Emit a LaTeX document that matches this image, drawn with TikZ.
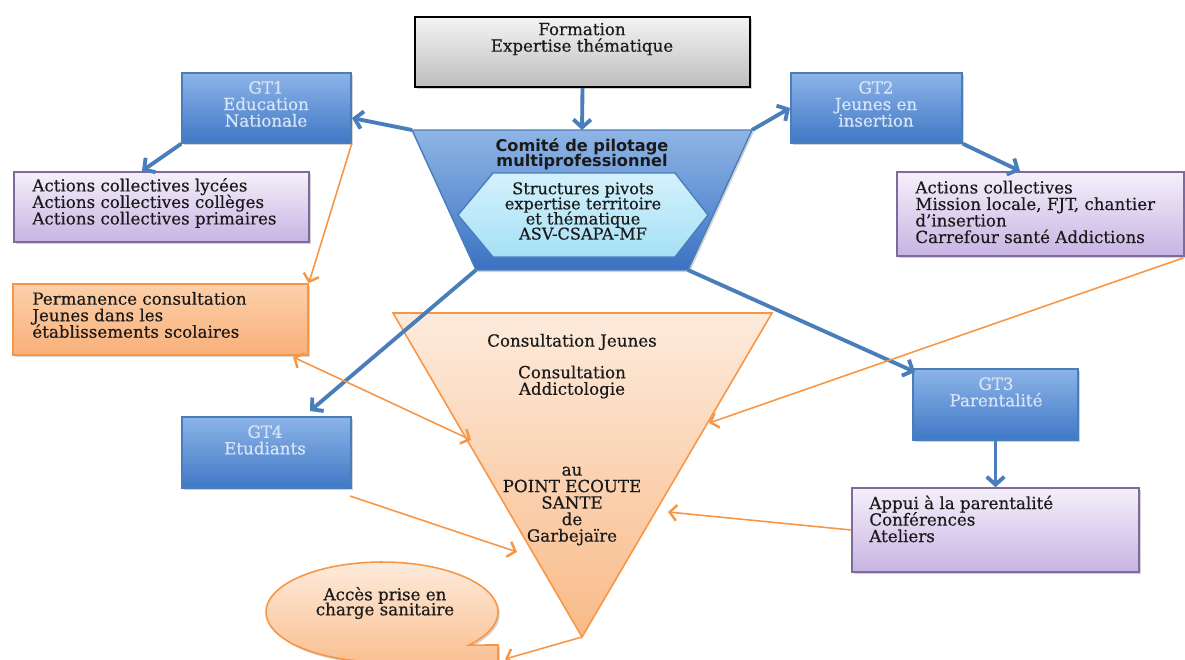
\documentclass[tikz,border=0pt]{standalone}
\usepackage{fontspec}
\setmainfont{DejaVu Serif}[FakeBold=0.4]
\newfontfamily\comfont{DejaVu Sans}
\usetikzlibrary{arrows.meta,shadows,fit}
\AtBeginDocument{\setlength{\lineskiplimit}{-20pt}\setlength{\lineskip}{0pt}}
\definecolor{bluebd}{HTML}{4A7EBB}
\definecolor{bluetop}{HTML}{8DB4E8}
\definecolor{bluebot}{HTML}{3F78C6}
\definecolor{gttext}{HTML}{D8E5F6}
\definecolor{purtop}{HTML}{F4F0FA}
\definecolor{purbot}{HTML}{C8B3E3}
\definecolor{purbd}{HTML}{7F6A9C}
\definecolor{ortop}{HTML}{FDEBDC}
\definecolor{orbot}{HTML}{F9BA88}
\definecolor{permtop}{HTML}{FCD0AA}
\definecolor{permbot}{HTML}{F8B07A}
\definecolor{orbd}{HTML}{F79646}
\definecolor{graytop}{HTML}{F4F4F4}
\definecolor{graybot}{HTML}{BDBDBD}
\definecolor{hextop}{HTML}{D3F2FC}
\definecolor{hexbot}{HTML}{A6E0F5}
\definecolor{txt}{HTML}{1A1A1A}
\definecolor{tztop}{HTML}{8FB5E6}
\definecolor{tzbot}{HTML}{3A72C2}
\begin{document}
\begin{tikzpicture}[x=0.02cm,y=-0.02cm,
  every node/.style={text=txt, font=\fontsize{9.5}{9.4}\selectfont},
  shad/.style={drop shadow={shadow xshift=1pt,shadow yshift=-1.2pt,opacity=0.35}},
  bluebox/.style={draw=bluebd, line width=0.8pt, top color=bluetop, bottom color=bluebot, shad, inner sep=0pt},
  purbox/.style={draw=purbd, line width=0.9pt, top color=purtop, bottom color=purbot, shad, inner sep=0pt},
  orbox/.style={draw=orbd, line width=0.9pt, top color=permtop, bottom color=permbot, shad, inner sep=0pt},
  graybox/.style={draw=black, line width=1.2pt, top color=graytop, bottom color=graybot, shad, inner sep=0pt},
  gtt/.style={text=gttext, align=center},
  ltxt/.style={align=left, anchor=west, inner sep=0pt},
  ctxt/.style={align=center},
  barrow/.style={draw=bluebd, line width=2.2pt, -{Straight Barb[length=4.5pt,width=10pt]}},
  oarrow/.style={draw=orbd, line width=0.9pt, -{Straight Barb[length=4pt,width=9pt,line width=1.4pt]}},
  odarrow/.style={draw=orbd, line width=0.9pt, {Straight Barb[length=4pt,width=9pt,line width=1.4pt]}-{Straight Barb[length=4pt,width=9pt,line width=1.4pt]}}
]
\useasboundingbox (0,0) rectangle (1185,659);
\clip (0,0) rectangle (1185,659);

% named corner coordinates
\coordinate (tzA) at (412,130);
\coordinate (tzB) at (752,130);
\coordinate (tzC) at (688,270);
\coordinate (tzD) at (476,270);
\coordinate (tzT) at (582,130);
\coordinate (trA) at (393,313);
\coordinate (trB) at (772,313);
\coordinate (trC) at (582,637);

% Formation box
\node[graybox, fit={(415,17)(750,87)}] (fmt) {};
\node[ctxt] (fmtt) at (582,39) {Formation\\Expertise thématique};

% Comite trapezoid
\path[draw=bluebd, line width=0.8pt, top color=tztop, bottom color=tzbot, shad] (tzA) -- (tzB) -- (tzC) -- (tzD) -- cycle;
\node[ctxt, font=\comfont\bfseries\fontsize{9.2}{8.8}\selectfont] (comt) at (582,154) {Comité de pilotage\\multiprofessionnel};
\path[draw=bluebd, line width=0.8pt, top color=hextop, bottom color=hexbot] (458,215) -- (493,173) -- (675,173) -- (708,215) -- (675,257) -- (493,257) -- cycle;
\node[ctxt, font=\fontsize{9.2}{8.6}\selectfont] (hext) at (583,211) {Structures pivots\\expertise territoire\\et thématique\\ASV-CSAPA-MF};

% GT boxes
\node[bluebox, fit={(182,73)(351,143)}] (gt1) {};
\node[gtt] (gt1t) at (266,104) {GT1\\Education\\Nationale};
\node[bluebox, fit={(791,73)(962,143)}] (gt2) {};
\node[gtt] (gt2t) at (876,104) {GT2\\Jeunes en\\insertion};
\node[bluebox, fit={(913,369)(1078,440)}] (gt3) {};
\node[gtt] (gt3t) at (996,392) {GT3\\Parentalité};
\node[bluebox, fit={(182,417)(351,488)}] (gt4) {};
\node[gtt] (gt4t) at (265,440) {GT4\\Etudiants};

% purple boxes
\node[purbox, fit={(14,172)(309,242)}] (actL) {};
\node[ltxt] (actLt) at (32,203) {Actions collectives lycées\\Actions collectives collèges\\Actions collectives primaires};
\node[purbox, fit={(897,172)(1184,256)}] (actR) {};
\node[ltxt] (actRt) at (915,212) {Actions collectives\\Mission locale, FJT, chantier\\d’insertion\\Carrefour santé Addictions};
\node[purbox, fit={(852,488)(1139,572)}] (app) {};
\node[ltxt] (appt) at (869,519) {Appui à la parentalité\\Conférences\\Ateliers};

% Permanence
\node[orbox, fit={(13,284)(308,355)}] (perm) {};
\node[ltxt] (permt) at (32,315) {Permanence consultation\\Jeunes dans les\\établissements scolaires};

% Triangle
\path[draw=orbd, line width=0.9pt, top color=ortop, bottom color=orbot] (trA) -- (trB) -- (trC) -- cycle;
\node[ctxt] (tri1) at (572,342) {Consultation Jeunes};
\node[ctxt] (tri2) at (572,382) {Consultation\\Addictologie};
\node[ctxt] (tri3) at (572,506) {au\\POINT ECOUTE\\SANTE\\de\\Garbejaïre};

% Callout
\path[draw=orbd, line width=0.9pt, top color=ortop, bottom color=orbot, shad]
  (392,675) -- plot[domain=-275:41.4, samples=80] ({382+116*cos(\x)},{612+50*sin(\x)}) -- (498,645) -- (498,675) -- cycle;
\node[ctxt, font=\fontsize{9.5}{8.5}\selectfont] (callt) at (385,603) {Accès prise en\\charge sanitaire};

% free-end coordinates
\coordinate (g1in) at (352,118);
\coordinate (g2in) at (790,108);
\coordinate (aLin) at (142,171);
\coordinate (aRin) at (1020,171);
\coordinate (g4in) at (310,411);
\coordinate (g3in) at (915,372);
\coordinate (ptA) at (293,357);
\coordinate (ptB) at (471,440);
\coordinate (rbA) at (1183,258);
\coordinate (rbB) at (709,423);
\coordinate (apB) at (668,512);
\coordinate (g4o) at (350,496);
\coordinate (g4B) at (517,552);
\coordinate (calB) at (505,659);

% blue connectors
\draw[barrow] (fmt.south) -- (tzT);
\draw[barrow] (tzA) -- (g1in);
\draw[barrow] (tzB) -- (g2in);
\draw[barrow] (gt1.south west) -- (aLin);
\draw[barrow] (gt2.south east) -- (aRin);
\draw[barrow] (tzD) -- (g4in);
\draw[barrow] (tzC) -- (g3in);
\draw[barrow] (gt3.south) -- (app.north);

% orange connectors
\draw[oarrow] (gt1.south east) -- (perm.north east);
\draw[odarrow] (ptA) -- (ptB);
\draw[oarrow] (rbA) -- (rbB);
\draw[oarrow] (app.west) -- (apB);
\draw[oarrow] (g4o) -- (g4B);
\draw[oarrow] (trC) -- (calB);
\end{tikzpicture}
\end{document}
